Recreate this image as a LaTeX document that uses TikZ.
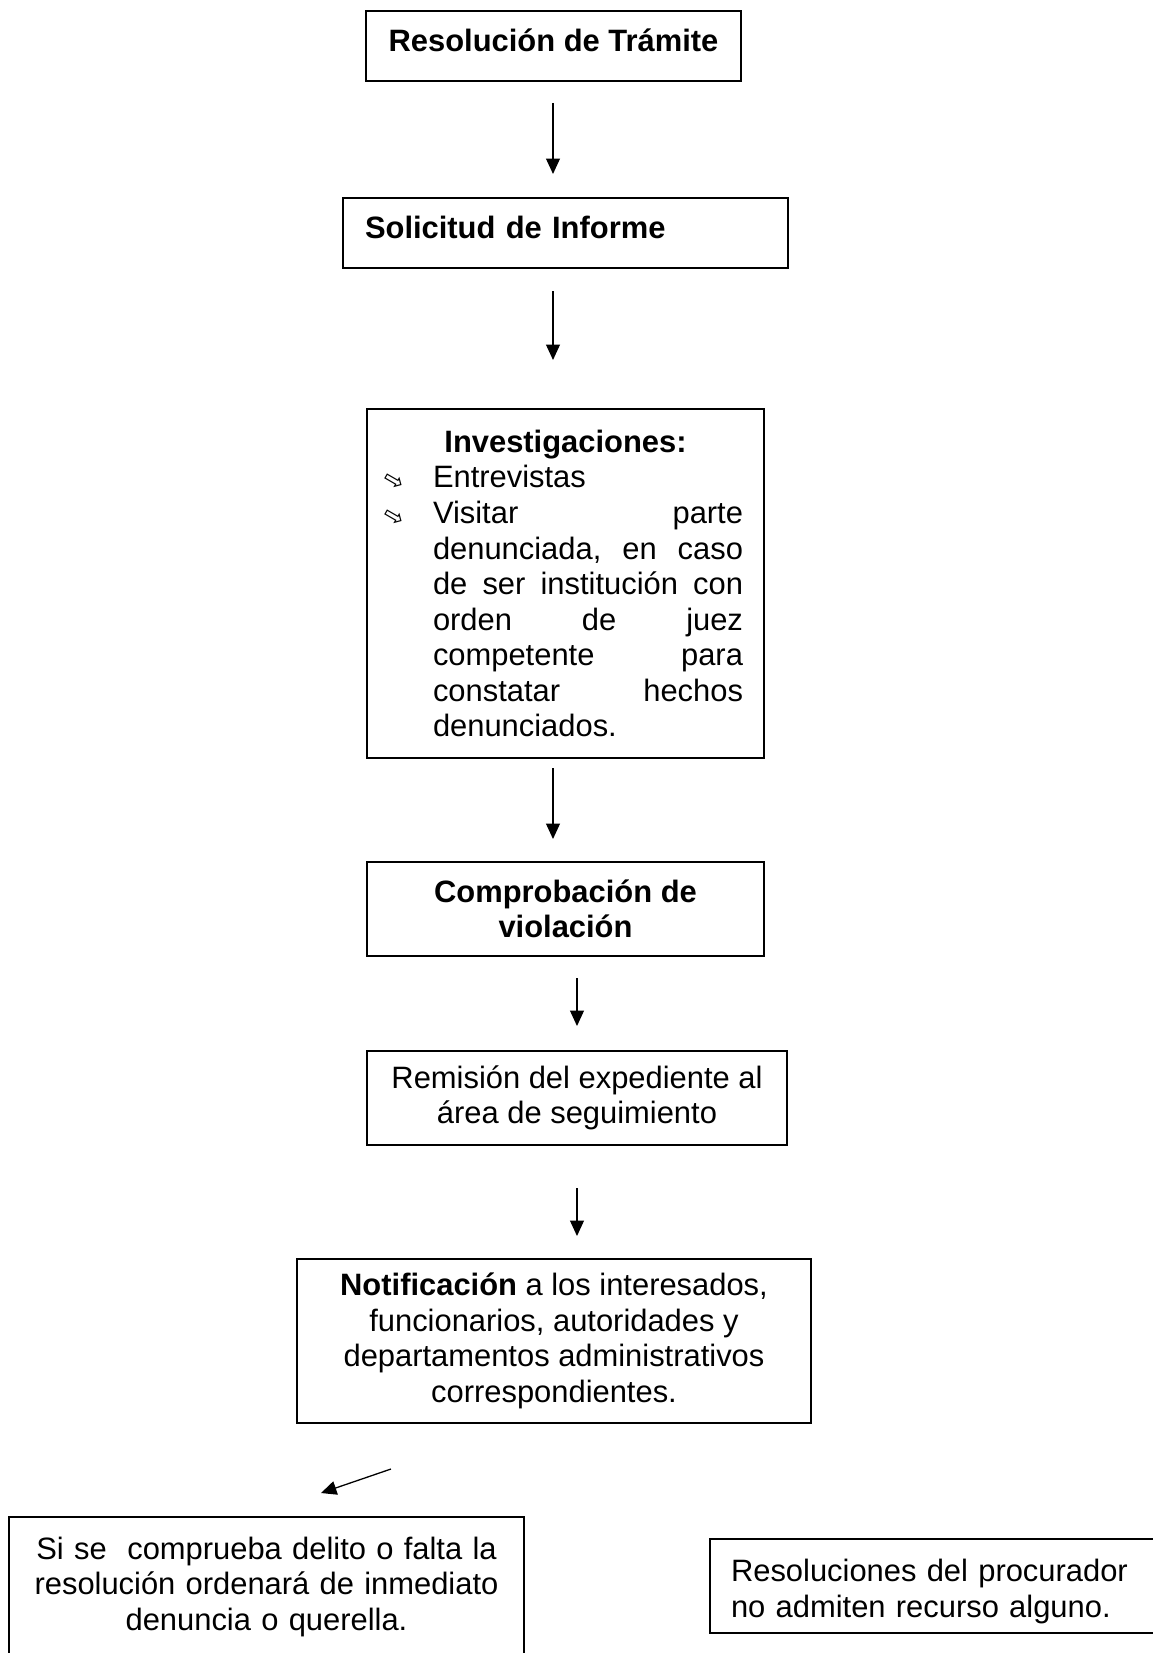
\documentclass[tikz,border=0pt]{standalone}
\usepackage{fontspec}
\setmainfont{Liberation Sans}
\newfontfamily\symfont{DejaVu Sans}
\usetikzlibrary{arrows.meta}
\newlength{\pxu}
\setlength{\pxu}{0.3883pt}
\newcommand{\txt}{\fontsize{12}{13.8}\selectfont}
\newcommand{\bul}{\llap{\raisebox{2pt}{\symfont\fontsize{9.5}{9.5}\selectfont\rotatebox{-30}{⇨}}\hspace{27\pxu}}}

\begin{document}
\begin{tikzpicture}[x=0.3883pt, y=-0.3883pt, >={Triangle[length=6pt,width=5.4pt]},
    caja/.style={draw, line width=0.8pt, inner sep=0pt, font=\txt},
    negrita/.style={font=\txt\bfseries},
    unalinea/.style={text height=0.7em, text depth=0.3em},
    flecha/.style={->, line width=0.5pt}]
        \useasboundingbox (0,0) rectangle (1152,1653);

        % boxes
        \node[caja, negrita, unalinea, minimum width=375\pxu, minimum height=70\pxu] (tramite) at (553.5,46) {Resolución de Trámite};
        \node[caja, negrita, unalinea, minimum width=445\pxu, minimum height=70\pxu, text width=401\pxu, align=left] (solicitud) at (565.5,233) {Solicitud de Informe};
        \node[caja, minimum width=397\pxu, minimum height=349\pxu, text width=397\pxu, align=center] (investiga) at (565.5,583.5) {%
            \textbf{Investigaciones:}\\
            \hspace*{45\pxu}\parbox[t]{310\pxu}{\noindent
            \bul Entrevistas\\
            \bul Visitar \hfill parte\\
            denunciada, \hfill en \hfill caso\\
            de \hfill ser \hfill institución \hfill con\\
            orden \hfill de \hfill juez\\
            competente \hfill para\\
            constatar \hfill hechos\\
            denunciados.}};
        \node[caja, negrita, minimum width=397\pxu, minimum height=94\pxu, align=center] (comprueba) at (565.5,909) {Comprobación de\\violación};
        \node[caja, minimum width=420\pxu, minimum height=94\pxu, align=center] (remision) at (577,1098) {Remisión del expediente al\\área de seguimiento};
        \node[caja, minimum width=514\pxu, minimum height=164\pxu, align=center] (notifica) at (554,1341) {\textbf{Notificación} a los interesados,\\funcionarios, autoridades y\\departamentos administrativos\\correspondientes.};
        \node[caja, anchor=north, text width=515\pxu, inner ysep=20\pxu, text depth=150\pxu, align=center] (delito) at (266.5,1516) {Si se\ \ comprueba delito o falta la\\resolución ordenará de inmediato\\denuncia o querella.};
        \node[caja, anchor=west, minimum height=94\pxu, text width=419\pxu, inner xsep=21\pxu, align=left] (procurador) at (709,1586) {\rule{0pt}{13pt}\makebox[402\pxu][s]{Resoluciones del procurador}\\no admiten recurso alguno.};

        % arrows
        \coordinate (f1a) at (553,103);  \coordinate (f1b) at (553,174);
        \coordinate (f2a) at (553,291);  \coordinate (f2b) at (553,360);
        \coordinate (f3a) at (553,768);  \coordinate (f3b) at (553,839);
        \coordinate (f4a) at (577,978);  \coordinate (f4b) at (577,1026);
        \coordinate (f5a) at (577,1188); \coordinate (f5b) at (577,1236);
        \coordinate (f6a) at (391,1469); \coordinate (f6b) at (321,1493);
        \foreach \n in {1,...,6}
            \draw[flecha] (f\n a) -- (f\n b);
\end{tikzpicture}
\end{document}
